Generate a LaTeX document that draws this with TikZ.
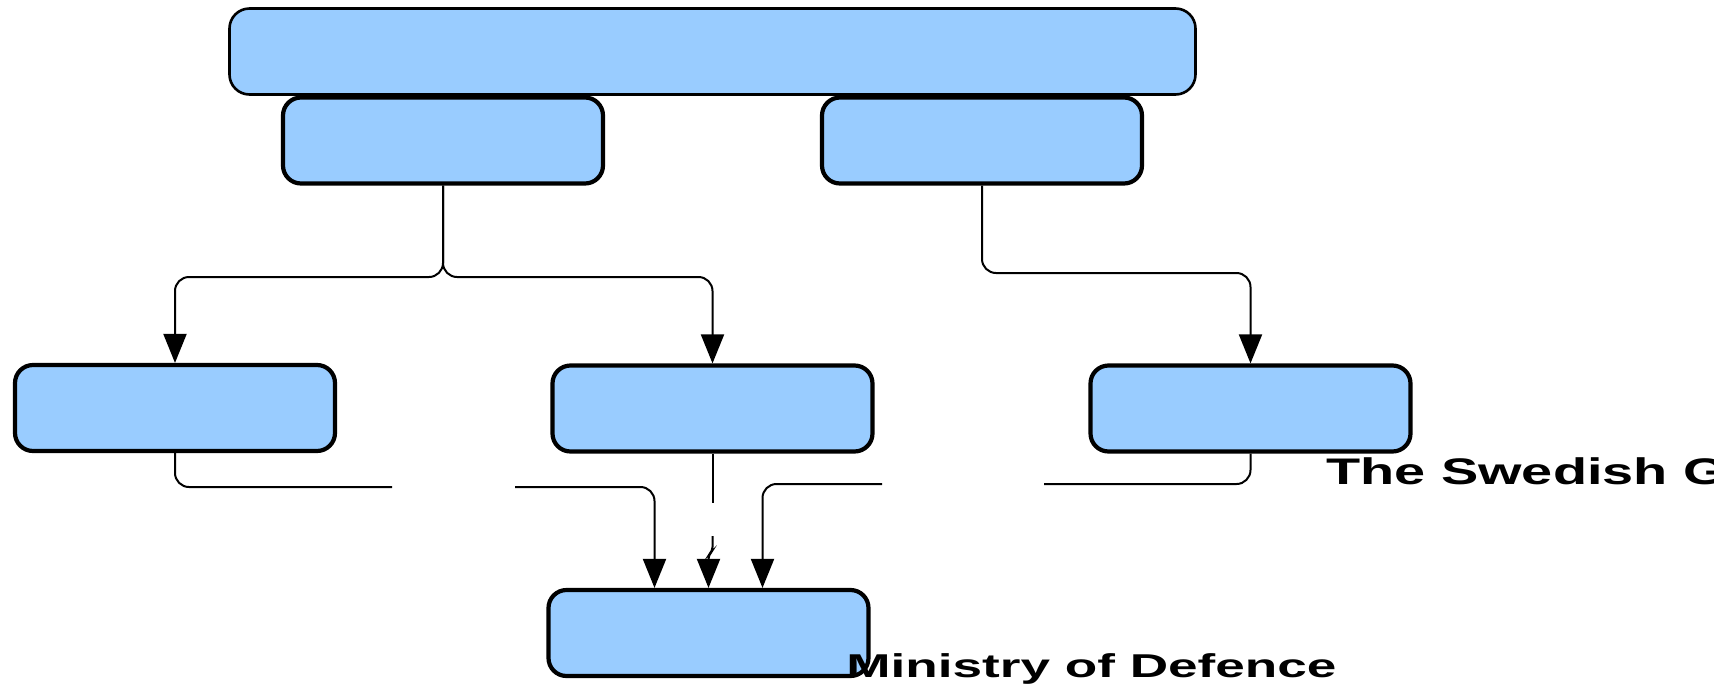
\documentclass[tikz,border=0pt]{standalone}
\usepackage{fontspec}
\setmainfont{Liberation Sans}
\usetikzlibrary{arrows.meta}
\definecolor{boxblue}{HTML}{99CCFF}
\begin{document}
\begin{tikzpicture}[x=0.5pt,y=-0.5pt,
  box/.style={draw, fill=boxblue, line width=2.1pt, rounded corners=9pt,
    minimum width=160pt, minimum height=43pt, inner sep=0pt},
  topbox/.style={box, line width=1.3pt, rounded corners=10pt,
    minimum width=483pt, minimum height=43pt},
  link/.style={line width=1pt, rounded corners=7pt},
  arr/.style={link, -{Triangle[length=14.5pt,width=11.5pt]}},
  caption/.style={anchor=base west, inner sep=0pt}]
\useasboundingbox (0,0) rectangle (1714,697);
\clip (0,0) rectangle (1714,697);

% boxes
\node[topbox] (gov) at (712.5,51.5) {};
\node[box] (a) at (443,140.5) {};
\node[box] (b) at (982,140.5) {};
\node[box] (c) at (175,408) {};
\node[box] (d) at (712.5,408.5) {};
\node[box] (e) at (1250.5,408.5) {};
\node[box] (f) at (708.5,633) {};

% upper connectors
\coordinate (asplit) at (443,277);
\coordinate (bturn) at (982,273);
\draw[arr] (a.south) -- (asplit) -| (c.north);
\draw[arr] (a.south) -- (asplit) -| (d.north);
\draw[arr] (b.south) -- (bturn) -| (e.north);

% lower connectors, interrupted where their labels sit
\coordinate (c1) at (392,487);
\coordinate (c2) at (515,487);
\coordinate (d1) at (712.5,503);
\coordinate (d2) at (712.5,536);
\coordinate (d3) at (712.5,551);
\coordinate (d4) at (708.5,555);
\coordinate (e1) at (1044,484);
\coordinate (e2) at (882,484);
\draw[link] (c.south) |- (c1);
\draw[arr] (c2) -| ([xshift=-27pt]f.north);
\draw[link] (d.south) -- (d1);
\draw[arr, rounded corners=2pt] (d2) -- (d3) -- (d4) -- (f.north);
\draw[link] (e.south) |- (e1);
\draw[arr] (e2) -| ([xshift=27pt]f.north);

% captions
\node[caption] (govtext) at (1326,484)
  {\scalebox{1.51}[1]{\fontsize{18.5}{21}\selectfont\bfseries The Swedish Government}};
\node[caption] (modtext) at (846,677)
  {\scalebox{1.61}[1]{\fontsize{16.5}{19}\selectfont\bfseries Ministry of Defence}};
\end{tikzpicture}
\end{document}
